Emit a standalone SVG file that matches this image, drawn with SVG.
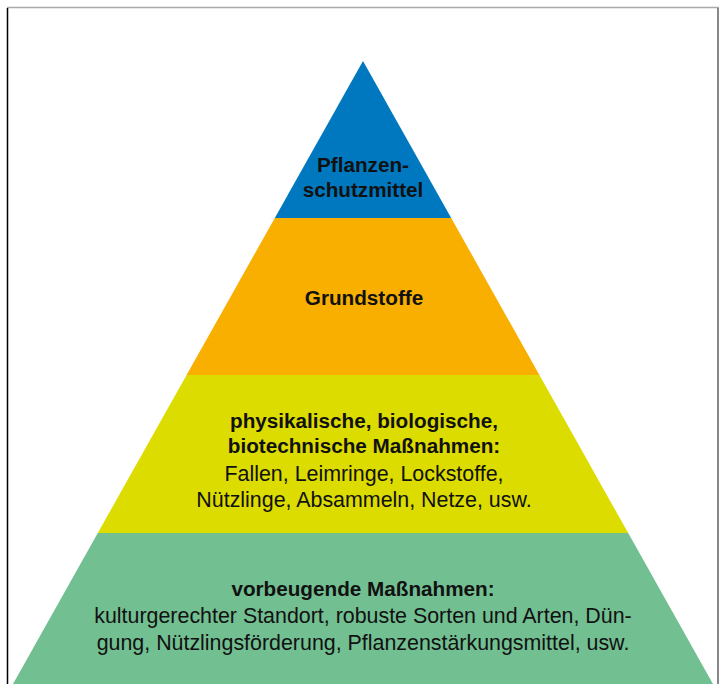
<svg xmlns="http://www.w3.org/2000/svg" width="726" height="684" viewBox="0 0 726 684">
<style>
text{font-family:"Liberation Sans",Arial,sans-serif;fill:#111;text-anchor:middle}
.b{font-weight:bold;font-size:20.7px}
.r{font-size:21.4px}
</style>
<rect width="726" height="684" fill="#fff"/>
<g id="frame">
<line x1="7" y1="7.5" x2="719" y2="7.5" stroke="#aaa" stroke-width="1.5"/>
<line x1="7.5" y1="8" x2="7.5" y2="684" stroke="#000" stroke-width="1.5"/>
<line x1="718" y1="8" x2="718" y2="684" stroke="#888" stroke-width="2"/>
</g>
<g id="level1">
<polygon points="363,61 451.2,218 274.8,218" fill="#0078BF"/>
<text class="b" x="363" y="172">Pflanzen-</text>
<text class="b" x="363" y="197">schutzmittel</text>
</g>
<g id="level2">
<polygon points="274.8,218 451.2,218 539.4,375 186.6,375" fill="#F8AF00"/>
<text class="b" x="364" y="305">Grundstoffe</text>
</g>
<g id="level3">
<polygon points="186.6,375 539.4,375 628.2,533 97.8,533" fill="#DCDC00"/>
<text class="b" x="364" y="428">physikalische, biologische,</text>
<text class="b" x="364" y="453">biotechnische Maßnahmen:</text>
<text class="r" x="364" y="481">Fallen, Leimringe, Lockstoffe,</text>
<text class="r" x="364" y="507">Nützlinge, Absammeln, Netze, usw.</text>
</g>
<g id="level4">
<polygon points="97.8,533 628.2,533 713,684 13,684" fill="#72BF91"/>
<text class="b" x="363" y="596">vorbeugende Maßnahmen:</text>
<text class="r" x="363" y="623">kulturgerechter Standort, robuste Sorten und Arten, Dün-</text>
<text class="r" x="363" y="650">gung, Nützlingsförderung, Pflanzenstärkungsmittel, usw.</text>
</g>
<g id="connectors"/>
</svg>
